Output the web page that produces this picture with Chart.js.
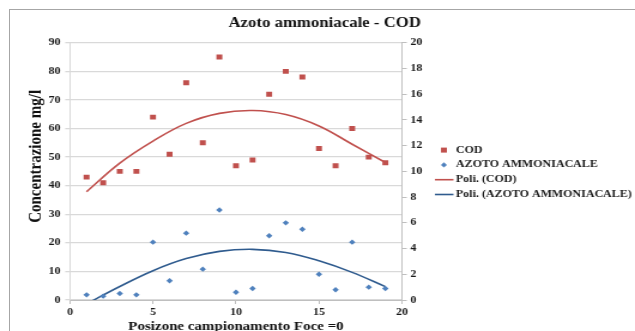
<!DOCTYPE html>
<html>
<head>
<meta charset="utf-8">
<title>Azoto ammoniacale - COD</title>
<script src="https://cdn.jsdelivr.net/npm/chart.js@4"></script>
<style>
  html, body { margin: 0; padding: 0; background: #fff; }
  #wrap { position: relative; width: 635px; height: 331px; overflow: hidden; }
  #frame { position: absolute; left: 9px; top: 9px; width: 640px; height: 340px;
           border-left: 1px solid #a6a6a6; border-top: 1px solid #a6a6a6; }
  #chart { position: absolute; left: 0; top: 0; }
</style>
</head>
<body>
<div id="wrap">
  <div id="frame"></div>
  <!-- drawn 530px wide and stretched to 635px, like the source picture -->
  <canvas id="chart" width="530" height="331" style="width:635px;height:331px"></canvas>
</div>
<script>
// Sampling positions (distance from the river mouth)
const positions = [1, 2, 3, 4, 5, 6, 7, 8, 9, 10, 11, 12, 13, 14, 15, 16, 17, 18, 19];

// COD, mg/l (left axis)
const codValues = [43, 41, 45, 45, 64, 51, 76, 55, 85, 47, 49, 72, 80, 78, 53, 47, 60, 50, 48];

// Azoto ammoniacale, mg/l (right axis)
const azotoValues = [0.4, 0.3, 0.5, 0.4, 4.5, 1.5, 5.2, 2.4, 7.0, 0.6, 0.9, 5.0, 6.0, 5.5, 2.0, 0.8, 4.5, 1.0, 0.9];

// Polynomial trend lines
const trendX = [1, 3, 5, 7, 9, 11, 13, 15, 17, 19];
const codTrend = [37.9, 47.9, 55.6, 61.8, 65.3, 66.3, 64.9, 60.9, 54.5, 48.1];
const azotoTrend = [-0.3, 1.05, 2.28, 3.22, 3.78, 3.94, 3.7, 3.05, 2.15, 1.04];

const SERIF = "'Liberation Serif', 'Times New Roman', serif";
const RED = '#c0504d';
const BLUE = '#4f81bd';
const BLUE_LINE = '#2f5b8e';
const GRID = '#d9d9d9';
const AXIS = '#bfbfbf';

Chart.defaults.font.family = SERIF;
Chart.defaults.color = '#1a1a1a';

const toPoints = (xs, ys) => xs.map((x, i) => ({ x, y: ys[i] }));

// Legend drawn to the right of the plot, Excel style
const sideLegend = {
    id: 'sideLegend',
    afterDraw(chart) {
        const { ctx, chartArea } = chart;
        const x = chartArea.right + 35;
        let y = chartArea.top + 107.3;
        ctx.save();
        ctx.font = 'bold 10px ' + SERIF;
        ctx.textBaseline = 'middle';
        chart.data.datasets.forEach(ds => {
            if (ds.showLine) {
                ctx.strokeStyle = ds.borderColor;
                ctx.lineWidth = 1.6;
                ctx.beginPath();
                ctx.moveTo(x - 7.5, y);
                ctx.lineTo(x + 8, y);
                ctx.stroke();
            } else if (ds.pointStyle === 'rect') {
                ctx.fillStyle = ds.backgroundColor;
                ctx.fillRect(x - 2.5, y - 2.5, 5, 5);
            } else {
                ctx.fillStyle = ds.backgroundColor;
                ctx.beginPath();
                ctx.moveTo(x, y - 2.7);
                ctx.lineTo(x + 2.5, y);
                ctx.lineTo(x, y + 2.7);
                ctx.lineTo(x - 2.5, y);
                ctx.closePath();
                ctx.fill();
            }
            ctx.fillStyle = '#1a1a1a';
            ctx.fillText(ds.label, x + 10, y);
            y += 14.8;
        });
        ctx.restore();
    }
};

new Chart(document.getElementById('chart'), {
    type: 'scatter',
    data: {
        datasets: [
            {
                label: 'COD',
                data: toPoints(positions, codValues),
                yAxisID: 'y',
                pointStyle: 'rect',
                pointRadius: 3.5,
                pointHoverRadius: 3.5,
                backgroundColor: RED,
                borderColor: RED,
                borderWidth: 0
            },
            {
                label: 'AZOTO AMMONIACALE',
                data: toPoints(positions, azotoValues),
                yAxisID: 'y1',
                pointStyle: 'rectRot',
                pointRadius: 2.7,
                pointHoverRadius: 2.7,
                backgroundColor: BLUE,
                borderColor: BLUE,
                borderWidth: 0
            },
            {
                label: 'Poli. (COD)',
                data: toPoints(trendX, codTrend),
                yAxisID: 'y',
                showLine: true,
                tension: 0.4,
                pointRadius: 0,
                borderColor: RED,
                borderWidth: 1.6
            },
            {
                label: 'Poli. (AZOTO AMMONIACALE)',
                data: toPoints(trendX, azotoTrend),
                yAxisID: 'y1',
                showLine: true,
                tension: 0.4,
                pointRadius: 0,
                borderColor: BLUE_LINE,
                borderWidth: 1.6
            }
        ]
    },
    options: {
        responsive: false,
        animation: false,
        devicePixelRatio: 1,
        layout: { padding: { left: 12, right: 0, top: 0, bottom: 0 } },
        plugins: {
            legend: { display: false },
            tooltip: { enabled: false },
            title: {
                display: true,
                text: 'Azoto ammoniacale - COD',
                color: '#111',
                font: { size: 14, weight: 'bold' },
                padding: { top: 15, bottom: 11 }
            }
        },
        scales: {
            x: {
                type: 'linear',
                position: 'bottom',
                min: 0,
                max: 20,
                afterFit: scale => { scale.height = 31; },
                ticks: { stepSize: 5, padding: 2, font: { size: 10, weight: 'bold' }, color: '#1a1a1a' },
                grid: { drawOnChartArea: false, tickLength: 4, color: AXIS },
                border: { color: AXIS, width: 1 },
                title: {
                    display: true,
                    text: 'Posizone campionamento Foce =0',
                    color: '#111',
                    font: { size: 12.5, weight: 'bold', lineHeight: 1 },
                    padding: { top: 0, bottom: -2.3 }
                }
            },
            y: {
                position: 'left',
                min: 0,
                max: 90,
                afterFit: scale => { scale.width = 46.4; },
                ticks: { stepSize: 10, padding: 4, font: { size: 10, weight: 'bold' }, color: '#1a1a1a' },
                grid: { color: GRID, lineWidth: 1.3, tickLength: 4 },
                border: { color: GRID, width: 1 },
                title: {
                    display: true,
                    text: '        Concentrazione mg/l',
                    color: '#111',
                    font: { size: 15, weight: 'bold', lineHeight: 1 },
                    padding: { top: 11, bottom: 0 }
                }
            },
            y1: {
                position: 'right',
                min: 0,
                max: 20,
                afterFit: scale => { scale.width = 194.5; },
                ticks: { stepSize: 2, padding: 3, font: { size: 10, weight: 'bold' }, color: '#1a1a1a' },
                grid: { drawOnChartArea: false, tickLength: 4, color: AXIS },
                border: { color: AXIS, width: 1 }
            }
        }
    },
    plugins: [sideLegend]
});
</script>
</body>
</html>
